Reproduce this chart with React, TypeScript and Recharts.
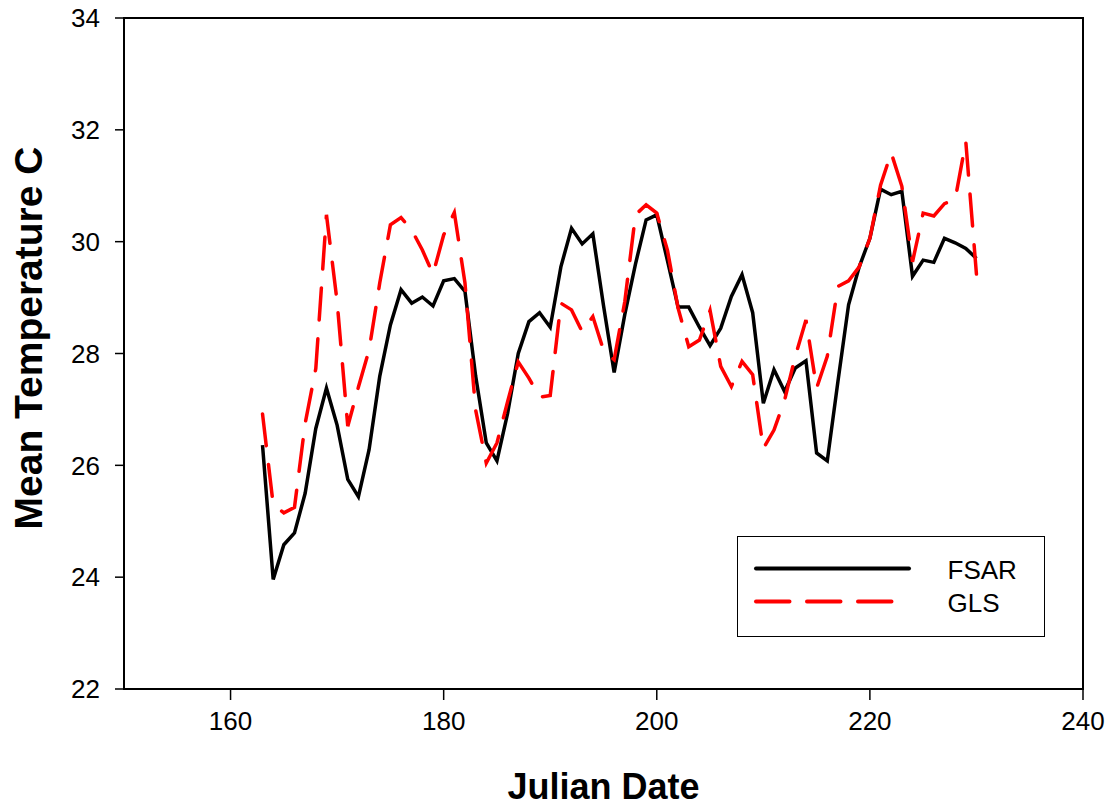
import React from 'react';
import { LineChart, Line, XAxis, YAxis, ReferenceArea, Legend } from 'recharts';

const days = [
  163, 164, 165, 166, 167, 168, 169, 170, 171, 172, 173, 174, 175, 176, 177, 178, 179,
  180, 181, 182, 183, 184, 185, 186, 187, 188, 189, 190, 191, 192, 193, 194, 195, 196,
  197, 198, 199, 200, 201, 202, 203, 204, 205, 206, 207, 208, 209, 210, 211, 212, 213,
  214, 215, 216, 217, 218, 219, 220, 221, 222, 223, 224, 225, 226, 227, 228, 229, 230,
];

const fsar = [
  26.36, 23.96, 24.58, 24.79, 25.5, 26.66, 27.38, 26.72, 25.75, 25.44, 26.28, 27.59, 28.51, 29.14, 28.9, 29.01, 28.85,
  29.3, 29.34, 29.11, 27.6, 26.4, 26.08, 26.93, 28.0, 28.57, 28.73, 28.47, 29.55, 30.24, 29.96, 30.14, 28.86, 27.66,
  28.7, 29.6, 30.39, 30.48, 29.66, 28.83, 28.83, 28.47, 28.14, 28.45, 29.02, 29.41, 28.73, 27.11, 27.71, 27.32, 27.74,
  27.87, 26.22, 26.08, 27.5, 28.87, 29.55, 30.06, 30.94, 30.84, 30.9, 29.38, 29.67, 29.63, 30.06, 29.98, 29.88, 29.7,
];

const gls = [
  26.92, 25.3, 25.15, 25.25, 26.75, 27.73, 30.48, 28.93, 26.7, 27.4, 28.06, 29.26, 30.3, 30.43, 30.21, 29.85, 29.42,
  30.12, 30.52, 29.26, 26.99, 26.04, 26.4, 27.14, 27.85, 27.56, 27.22, 27.25, 28.9, 28.78, 28.39, 28.66, 28.06, 27.89,
  28.93, 30.48, 30.66, 30.51, 29.85, 28.81, 28.12, 28.24, 28.77, 27.77, 27.41, 27.86, 27.62, 26.3, 26.63, 27.17, 27.95,
  28.6, 27.38, 27.95, 29.2, 29.3, 29.55, 30.06, 31.01, 31.59, 30.99, 29.64, 30.51, 30.46, 30.68, 30.75, 31.79, 29.42,
];

const xTicks = [160, 180, 200, 220, 240];
const yTicks = [22, 24, 26, 28, 30, 32, 34];

const data = days.map((d, i) => ({ day: d, FSAR: fsar[i], GLS: gls[i] }));

const FONT = '"Liberation Sans", Arial, Helvetica, sans-serif';
const GLS_DASH = '32 19';

const LegendBox = (props: any) => {
  const payload = props.payload || [];
  return (
    <div
      style={{
        width: 308,
        height: 101,
        boxSizing: 'border-box',
        border: '1.5px solid #000',
        background: '#fff',
      }}
    >
      <svg width={305} height={98} style={{ display: 'block' }}>
        {payload.map((p: any, i: number) => {
          const y = 31.5 + i * 33;
          const dashed = p.value === 'GLS';
          return (
            <g key={p.value}>
              <line
                x1={18}
                x2={dashed ? 154 : 171}
                y1={y}
                y2={y}
                stroke={p.color}
                strokeWidth={4}
                strokeLinecap="round"
                strokeDasharray={dashed ? '33.5 17.5' : undefined}
              />
              <text x={209.5} y={y + 10} fontSize={26} fontFamily={FONT} fill="#000">
                {p.value}
              </text>
            </g>
          );
        })}
      </svg>
    </div>
  );
};

const XTitle = (props: any) => {
  const vb = props.viewBox || { x: 124, width: 959 };
  return (
    <text
      x={vb.x + vb.width / 2}
      y={799}
      textAnchor="middle"
      fontSize={36}
      fontWeight="bold"
      fontFamily={FONT}
      fill="#000"
    >
      Julian Date
    </text>
  );
};

const YTitle = () => (
  <text
    transform="translate(42,338) rotate(-90)"
    textAnchor="middle"
    fontSize={39}
    fontWeight="bold"
    fontFamily={FONT}
    fill="#000"
  >
    Mean Temperature C
  </text>
);

export default function App() {
  return (
    <div style={{ position: 'fixed', left: 0, top: 0, background: '#fff' }}>
      <LineChart
        width={1110}
        height={808}
        data={data}
        margin={{ top: 18, right: 27, bottom: 0, left: 0 }}
        style={{ fontFamily: FONT }}
      >
        <XAxis
          dataKey="day"
          type="number"
          domain={[150, 240]}
          ticks={xTicks}
          height={119}
          axisLine={{ stroke: '#000', strokeWidth: 2 }}
          tickLine={{ stroke: '#000', strokeWidth: 1.5 }}
          tickSize={11}
          tickMargin={12}
          tick={{ fontSize: 26, fill: '#000', fontFamily: FONT }}
          label={<XTitle />}
        />
        <YAxis
          type="number"
          domain={[22, 34]}
          ticks={yTicks}
          width={124}
          axisLine={{ stroke: '#000', strokeWidth: 2 }}
          tickLine={{ stroke: '#000', strokeWidth: 1.5 }}
          tickSize={9}
          tickMargin={15}
          tick={{ fontSize: 26, fill: '#000', fontFamily: FONT }}
          label={<YTitle />}
        />
        <ReferenceArea
          x1={150}
          x2={240}
          y1={22}
          y2={34}
          fill="none"
          fillOpacity={0}
          stroke="#000"
          strokeWidth={2}
          ifOverflow="visible"
        />
        <Line
          type="linear"
          dataKey="FSAR"
          name="FSAR"
          stroke="#000000"
          strokeWidth={3.5}
          dot={false}
          activeDot={false}
          isAnimationActive={false}
        />
        <Line
          type="linear"
          dataKey="GLS"
          name="GLS"
          stroke="#ff0000"
          strokeWidth={3.5}
          strokeDasharray={GLS_DASH}
          strokeLinecap="round"
          dot={false}
          activeDot={false}
          isAnimationActive={false}
        />
        <Legend
          layout="vertical"
          align="center"
          verticalAlign="middle"
          content={<LegendBox />}
          wrapperStyle={{ left: 737, top: 536, width: 308, height: 101, margin: 0, padding: 0 }}
        />
      </LineChart>
    </div>
  );
}
